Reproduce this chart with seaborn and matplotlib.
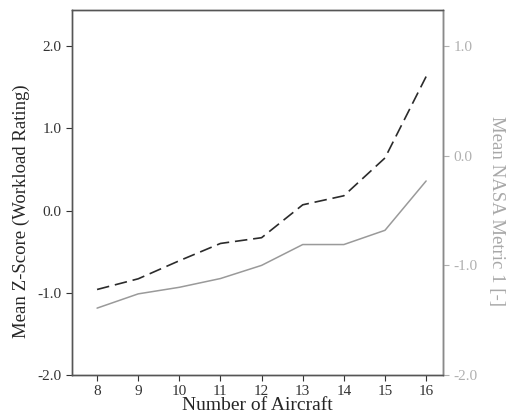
import matplotlib
matplotlib.use("Agg")
import matplotlib.pyplot as plt
import seaborn as sns
import pandas as pd

# Data
aircraft = [8, 9, 10, 11, 12, 13, 14, 15, 16]
zScoreWorkload = [-0.96, -0.83, -0.61, -0.40, -0.33, 0.07, 0.18, 0.64, 1.63]
nasaMetric1 = [-1.39, -1.26, -1.20, -1.12, -1.00, -0.81, -0.81, -0.68, -0.23]

leftTicks = [-2.0, -1.0, 0.0, 1.0, 2.0]
rightTicks = [-2.0, -1.0, 0.0, 1.0]

sns.set_style("ticks")
plt.rcParams["font.family"] = ["Liberation Serif", "DejaVu Serif"]

df = pd.DataFrame({"aircraft": aircraft, "zscore": zScoreWorkload, "nasa": nasaMetric1})

fig = plt.figure(figsize=(5.16, 4.15), dpi=100)
ax = fig.add_axes([0.1395, 0.0964, 0.719, 0.8796])
ax2 = ax.twinx()

sns.lineplot(data=df, x="aircraft", y="zscore", ax=ax, color="#2b2b2b",
             linewidth=1.2, dashes=False)
ax.lines[0].set_dashes([7.5, 3.5])
sns.lineplot(data=df, x="aircraft", y="nasa", ax=ax2, color="#9a9a9a", linewidth=1.1)

ax.set_xlim(7.39, 16.41)
ax.set_ylim(-2.0, 2.44)
ax2.set_ylim(-2.0, 1.33)
ax.set_xticks(aircraft)
ax.set_yticks(leftTicks)
ax.set_yticklabels([f"{v:.1f}" for v in leftTicks])
ax2.set_yticks(rightTicks)
ax2.set_yticklabels([f"{v:.1f}" for v in rightTicks])

ax.set_xlabel("Number of Aircraft", fontsize=14, labelpad=-1)
ax.set_ylabel("Mean Z-Score (Workload Rating)", fontsize=13.5, labelpad=5)
ax2.set_ylabel("Mean NASA Metric 1 [-]", fontsize=13.5, color="#a8a8a8",
               rotation=270, labelpad=20)
ax.yaxis.label.set_y(0.45)
ax2.yaxis.label.set_y(0.45)

for a in (ax, ax2):
    for s in a.spines.values():
        s.set_color("#555555")
        s.set_linewidth(1.0)
ax2.spines["right"].set_color("#8a8a8a")

ax.tick_params(axis="both", labelsize=11, colors="#333333", length=4, width=0.8)
ax2.tick_params(axis="y", labelsize=11, colors="#b0b0b0", labelcolor="#b0b0b0",
                length=4, width=0.8)

fig.savefig("out.png", dpi=100)
